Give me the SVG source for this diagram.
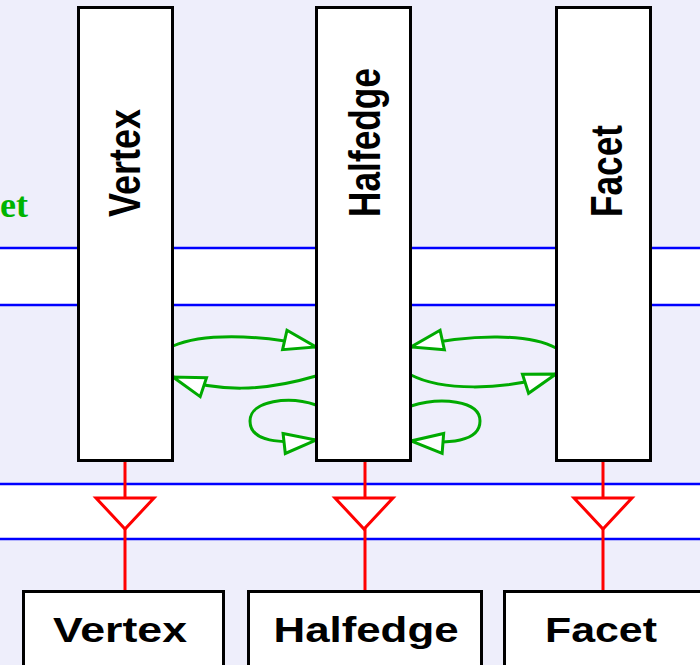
<svg xmlns="http://www.w3.org/2000/svg" width="700" height="665" viewBox="0 0 700 665">
  <style>
    .band { fill: #ffffff; }
    .rule { stroke: #0000ff; stroke-width: 2.5; fill: none; }
    .box { fill: #ffffff; stroke: #000000; stroke-width: 3; }
    .vlabel { font-family: "Liberation Sans", Arial, sans-serif; font-weight: bold; font-size: 44px; fill: #000000; }
    .hlabel { font-family: "Liberation Sans", Arial, sans-serif; font-weight: bold; font-size: 35px; fill: #000000; text-anchor: middle; }
    .rel { stroke: #00aa00; stroke-width: 3; fill: none; marker-end: url(#openArrow); }
    .link { stroke: #ff0000; stroke-width: 3; fill: none; }
    .tri { stroke: #ff0000; stroke-width: 3; fill: #ffffff; stroke-linejoin: miter; }
    .note { font-family: "Liberation Serif", "Times New Roman", serif; font-weight: bold; font-size: 36px; fill: #00b400; }
  </style>
  <defs>
    <marker id="openArrow" markerUnits="userSpaceOnUse" markerWidth="40" markerHeight="30" refX="34" refY="12" orient="auto" viewBox="0 0 40 24">
      <path d="M2,2 L34,12 L2,22 Z" fill="#ffffff" stroke="#00aa00" stroke-width="3"/>
    </marker>
  </defs>

  <!-- background and white bands -->
  <rect x="0" y="0" width="700" height="665" fill="#eeeefb"/>
  <rect class="band" x="0" y="248" width="700" height="57"/>
  <rect class="band" x="0" y="484" width="700" height="55"/>
  <line class="rule" x1="0" y1="248" x2="700" y2="248"/>
  <line class="rule" x1="0" y1="305" x2="700" y2="305"/>
  <line class="rule" x1="0" y1="484" x2="700" y2="484"/>
  <line class="rule" x1="0" y1="539" x2="700" y2="539"/>

  <text class="note" x="0" y="217" textLength="28" lengthAdjust="spacingAndGlyphs">et</text>

  <!-- connectors -->
  <g id="connectors">
    <!-- vertex <-> halfedge -->
    <path class="rel" d="M173,346 C200,334 254,333 316,347"/>
    <path class="rel" d="M316,376 C262,392 218,392 173,377"/>
    <path class="rel" d="M316,405 C290,396 250,400 250,421 C250,442 280,444 316,440"/>
    <!-- halfedge <-> facet -->
    <path class="rel" d="M556,348 C530,334 474,333 411,347"/>
    <path class="rel" d="M411,375 C440,390 500,392 556,374"/>
    <path class="rel" d="M411,406 C440,397 480,400 480,421 C480,442 450,444 411,441"/>
    <!-- realisation links -->
    <line class="link" x1="125" y1="462" x2="125" y2="590"/>
    <line class="link" x1="365" y1="462" x2="365" y2="590"/>
    <line class="link" x1="603" y1="462" x2="603" y2="590"/>
    <polygon class="tri" points="96,498 154,498 125,529"/>
    <polygon class="tri" points="335,498 393,498 364,529"/>
    <polygon class="tri" points="574,498 632,498 603,529"/>
  </g>

  <!-- upper concept columns -->
  <g id="vertex-concept">
    <rect class="box" x="78.5" y="7.5" width="94" height="453"/>
    <text class="vlabel" transform="translate(140,217) rotate(-90)" textLength="108" lengthAdjust="spacingAndGlyphs">Vertex</text>
  </g>
  <g id="halfedge-concept">
    <rect class="box" x="316.5" y="7.5" width="94" height="453"/>
    <text class="vlabel" transform="translate(380,217) rotate(-90)" textLength="149" lengthAdjust="spacingAndGlyphs">Halfedge</text>
  </g>
  <g id="facet-concept">
    <rect class="box" x="556.5" y="7.5" width="94" height="453"/>
    <text class="vlabel" transform="translate(622,217) rotate(-90)" textLength="92" lengthAdjust="spacingAndGlyphs">Facet</text>
  </g>

  <!-- lower model boxes -->
  <g id="vertex-model">
    <rect class="box" x="23.5" y="591.5" width="200" height="80"/>
    <text class="hlabel" x="120" y="642" textLength="134" lengthAdjust="spacingAndGlyphs">Vertex</text>
  </g>
  <g id="halfedge-model">
    <rect class="box" x="248.5" y="591.5" width="233" height="80"/>
    <text class="hlabel" x="366" y="642" textLength="185" lengthAdjust="spacingAndGlyphs">Halfedge</text>
  </g>
  <g id="facet-model">
    <rect class="box" x="504.5" y="591.5" width="210" height="80"/>
    <text class="hlabel" x="601" y="642" textLength="112" lengthAdjust="spacingAndGlyphs">Facet</text>
  </g>
</svg>
